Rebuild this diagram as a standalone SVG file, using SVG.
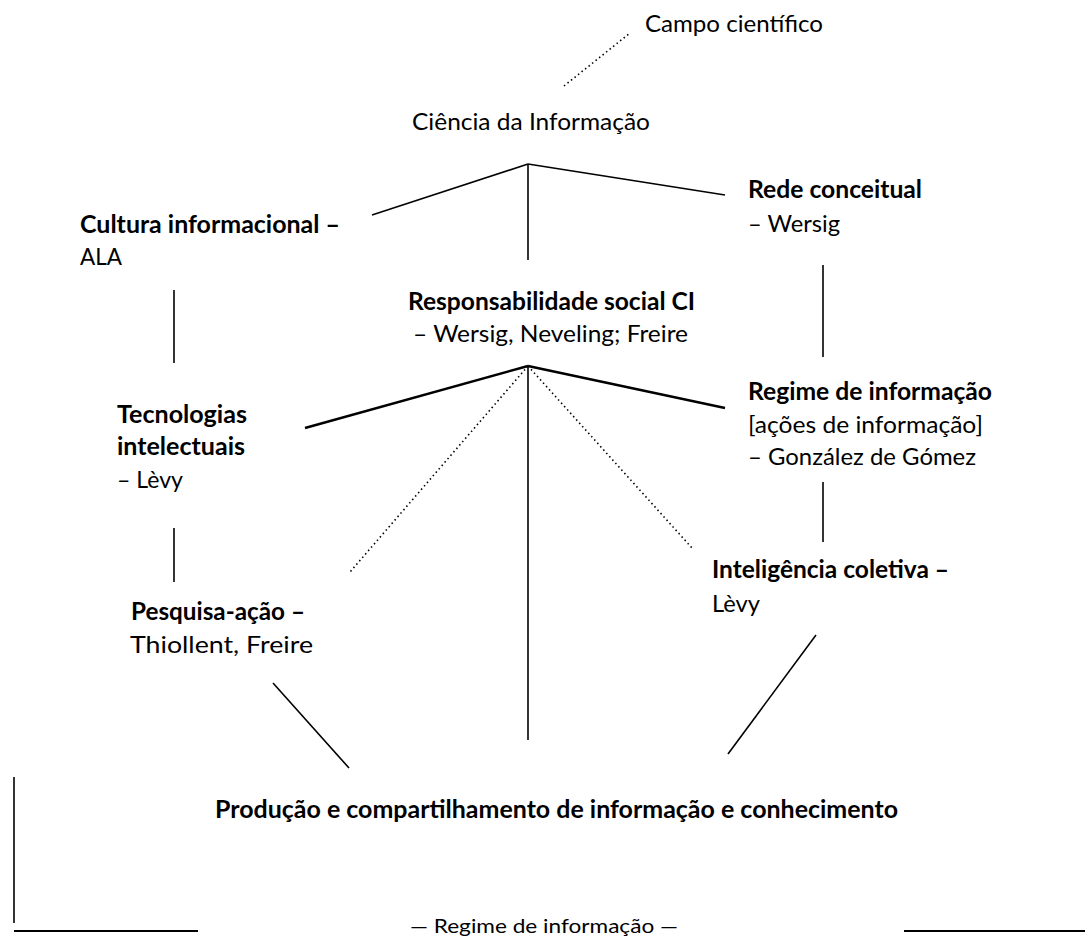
<svg xmlns="http://www.w3.org/2000/svg" width="1085" height="937" viewBox="0 0 1085 937">
<style>
text { font-family: Lato, "Open Sans", "Liberation Sans", sans-serif; font-size: 24px; fill: #000; }
.b { font-weight: bold; }
.sm { font-size: 20px; }
.ln { stroke: #000; stroke-width: 1.6; fill: none; }
.thk { stroke: #000; stroke-width: 2.4; fill: none; }
.dot { stroke: #000; stroke-width: 1.6; fill: none; stroke-dasharray: 1.5 3; }
.frame { stroke: #000; stroke-width: 2.2; fill: none; }
</style>
<rect width="1085" height="937" fill="#fff"/>
<g id="connectors">
  <line class="dot" x1="564" y1="86" x2="630" y2="33"/>
  <line class="ln" x1="528" y1="164" x2="372" y2="215"/>
  <line class="ln" x1="528" y1="164" x2="528" y2="260"/>
  <line class="ln" x1="528" y1="164" x2="725" y2="195"/>
  <line class="ln" x1="174" y1="290" x2="174" y2="363"/>
  <line class="ln" x1="823" y1="265" x2="823" y2="357"/>
  <line class="thk" x1="528" y1="366" x2="305" y2="428"/>
  <line class="thk" x1="528" y1="366" x2="725" y2="408"/>
  <line class="dot" x1="528" y1="366" x2="350" y2="572"/>
  <line class="dot" x1="528" y1="366" x2="692" y2="548"/>
  <line class="ln" x1="528" y1="366" x2="528" y2="740"/>
  <line class="ln" x1="174" y1="528" x2="174" y2="582"/>
  <line class="ln" x1="823" y1="482" x2="823" y2="542"/>
  <line class="ln" x1="273" y1="683" x2="349" y2="768"/>
  <line class="ln" x1="816" y1="635" x2="728" y2="754"/>
  <line class="ln" x1="14" y1="777" x2="14" y2="923"/>
  <line class="frame" x1="14" y1="931" x2="198" y2="931"/>
  <line class="frame" x1="904" y1="931" x2="1085" y2="931"/>
</g>
<g id="campo-cientifico">
  <text x="645" y="32" textLength="178" lengthAdjust="spacingAndGlyphs">Campo científico</text>
</g>
<g id="ciencia-informacao">
  <text x="412" y="130" textLength="238" lengthAdjust="spacingAndGlyphs">Ciência da Informação</text>
</g>
<g id="cultura-informacional">
  <text class="b" x="80" y="233" textLength="260" lengthAdjust="spacingAndGlyphs">Cultura informacional –</text>
  <text x="80" y="265" textLength="42" lengthAdjust="spacingAndGlyphs">ALA</text>
</g>
<g id="rede-conceitual">
  <text class="b" x="748" y="198" textLength="174" lengthAdjust="spacingAndGlyphs">Rede conceitual</text>
  <text x="748" y="232" textLength="92" lengthAdjust="spacingAndGlyphs">– Wersig</text>
</g>
<g id="responsabilidade-social">
  <text class="b" x="408" y="310" textLength="287" lengthAdjust="spacingAndGlyphs">Responsabilidade social CI</text>
  <text x="413" y="342" textLength="275" lengthAdjust="spacingAndGlyphs">– Wersig, Neveling; Freire</text>
</g>
<g id="tecnologias-intelectuais">
  <text class="b" x="117" y="423" textLength="130" lengthAdjust="spacingAndGlyphs">Tecnologias</text>
  <text class="b" x="117" y="455" textLength="128" lengthAdjust="spacingAndGlyphs">intelectuais</text>
  <text x="117" y="488" textLength="66" lengthAdjust="spacingAndGlyphs">– Lèvy</text>
</g>
<g id="regime-informacao">
  <text class="b" x="748" y="400" textLength="244" lengthAdjust="spacingAndGlyphs">Regime de informação</text>
  <text x="748" y="433" textLength="235" lengthAdjust="spacingAndGlyphs">[ações de informação]</text>
  <text x="748" y="465" textLength="228" lengthAdjust="spacingAndGlyphs">– González de Gómez</text>
</g>
<g id="inteligencia-coletiva">
  <text class="b" x="712" y="578" textLength="237" lengthAdjust="spacingAndGlyphs">Inteligência coletiva –</text>
  <text x="712" y="612" textLength="48" lengthAdjust="spacingAndGlyphs">Lèvy</text>
</g>
<g id="pesquisa-acao">
  <text class="b" x="131" y="620" textLength="174" lengthAdjust="spacingAndGlyphs">Pesquisa-ação –</text>
  <text x="130" y="653" textLength="183" lengthAdjust="spacingAndGlyphs">Thiollent, Freire</text>
</g>
<g id="producao">
  <text class="b" x="215" y="818" textLength="683" lengthAdjust="spacingAndGlyphs">Produção e compartilhamento de informação e conhecimento</text>
</g>
<g id="regime-rodape">
  <text class="sm" x="410" y="933" textLength="268" lengthAdjust="spacingAndGlyphs">— Regime de informação —</text>
</g>
</svg>
